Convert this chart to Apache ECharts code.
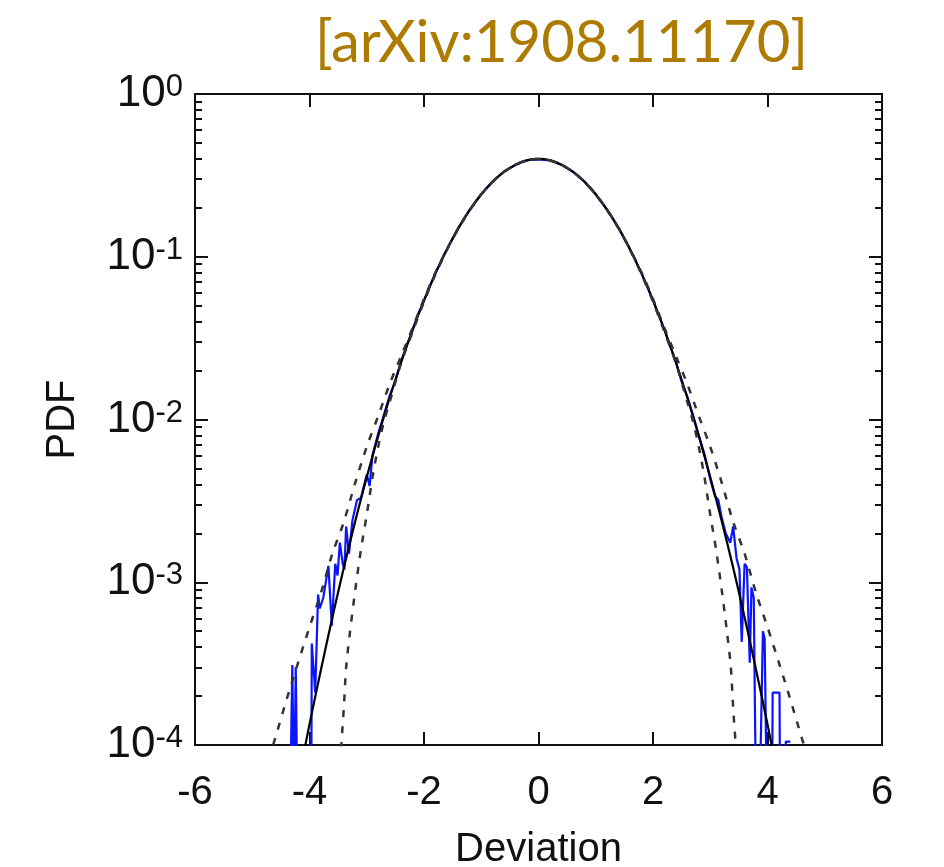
<!DOCTYPE html>
<html>
<head>
<meta charset="utf-8">
<script src="https://cdn.jsdelivr.net/npm/echarts@6/dist/echarts.min.js"></script>
<style>html,body{margin:0;padding:0;background:#fff}#c{width:944px;height:867px}</style>
</head>
<body>
<div id="c"></div>
<script>
// x tick labels
var xTicks = [-6, -4, -2, 0, 2, 4, 6];
// y tick exponents (log axis)
var yDecades = [0, -1, -2, -3, -4];

// Black solid curve
var blackX = [-4.2,-4.0,-3.8,-3.6,-3.4,-3.2,-3.0,-2.8,-2.6,-2.4,-2.2,-2.0,-1.8,-1.6,-1.4,-1.2,-1.0,-0.8,-0.6,-0.4,-0.2,0,0.2,0.4,0.6,0.8,1.0,1.2,1.4,1.6,1.8,2.0,2.2,2.4,2.6,2.8,3.0,3.2,3.4,3.6,3.8,4.0,4.2];
var blackY = [5.9e-5,1.34e-4,2.9e-4,6.1e-4,1.23e-3,2.38e-3,4.43e-3,7.9e-3,0.0136,0.0224,0.0355,0.054,0.079,0.111,0.150,0.194,0.242,0.290,0.333,0.368,0.391,0.399,0.391,0.368,0.333,0.290,0.242,0.194,0.150,0.111,0.079,0.054,0.0355,0.0224,0.0136,7.9e-3,4.43e-3,2.38e-3,1.23e-3,6.1e-4,2.9e-4,1.34e-4,5.9e-5];

// Wide dashed curve
var wideX = [-4.8,-4.6,-4.4,-4.2,-4.0,-3.8,-3.6,-3.4,-3.2,-3.0,-2.8,-2.6,-2.4,-2.2,-2.0,-1.8,-1.6,-1.4,-1.2,-1.0,-0.8,-0.6,-0.4,-0.2,0,0.2,0.4,0.6,0.8,1.0,1.2,1.4,1.6,1.8,2.0,2.2,2.4,2.6,2.8,3.0,3.2,3.4,3.6,3.8,4.0,4.2,4.4,4.6,4.8];
var wideY = [6.5e-5,1.1e-4,1.9e-4,3.2e-4,5.3e-4,8.6e-4,1.5e-3,2.35e-3,4.1e-3,6.8e-3,0.0105,0.0165,0.0245,0.0365,0.055,0.080,0.111,0.150,0.194,0.242,0.290,0.333,0.368,0.391,0.399,0.391,0.368,0.333,0.290,0.242,0.194,0.150,0.111,0.080,0.055,0.0365,0.0245,0.0165,0.0105,6.8e-3,4.1e-3,2.35e-3,1.5e-3,8.6e-4,5.3e-4,3.2e-4,1.9e-4,1.1e-4,6.5e-5];

// Narrow dashed curve
var narrowX = [-3.48,-3.44,-3.40,-3.36,-3.3,-3.2,-3.1,-3.0,-2.9,-2.8,-2.7,-2.6,-2.4,-2.2,-2.0,-1.8,-1.6,-1.4,-1.2,-1.0,-0.8,-0.6,-0.4,-0.2,0,0.2,0.4,0.6,0.8,1.0,1.2,1.4,1.6,1.8,2.0,2.2,2.4,2.6,2.7,2.8,2.9,3.0,3.1,3.2,3.3,3.36,3.40,3.44,3.48];
var narrowY = [6e-5,1.05e-4,1.7e-4,3e-4,4.7e-4,9e-4,1.6e-3,2.6e-3,4.4e-3,6.8e-3,9.7e-3,0.0128,0.0222,0.0345,0.053,0.078,0.110,0.149,0.193,0.241,0.289,0.333,0.368,0.391,0.399,0.391,0.368,0.333,0.289,0.241,0.193,0.149,0.110,0.078,0.053,0.0345,0.0222,0.0128,9.7e-3,6.8e-3,4.4e-3,2.6e-3,1.6e-3,9e-4,4.7e-4,3e-4,1.7e-4,1.05e-4,6e-5];

// Blue empirical data
var blueX = [-4.34,-4.30,-4.27,-4.24,-4.21,-3.97,-3.96,-3.90,-3.85,-3.82,-3.76,-3.73,-3.67,-3.61,-3.55,-3.51,-3.47,-3.42,-3.39,-3.36,-3.31,-3.25,-3.17,-3.10,-3.0,-2.95,-2.9,-2.8,-2.7,-2.6,-2.5,-2.4,-2.3,-2.2,-2.1,-2.0,-1.8,-1.6,-1.4,-1.2,-1.0,-0.8,-0.6,-0.4,-0.2,0,0.2,0.4,0.6,0.8,1.0,1.2,1.4,1.6,1.8,2.0,2.1,2.2,2.3,2.4,2.5,2.6,2.7,2.8,2.9,3.0,3.08,3.14,3.20,3.27,3.35,3.40,3.46,3.51,3.55,3.60,3.64,3.69,3.72,3.76,3.80,3.86,3.92,3.95,3.99,4.08,4.09,4.21,4.22,4.30,4.32,4.40];
var blueY = [4e-5,3.1e-4,4e-5,3.0e-4,4e-5,4e-5,4.2e-4,2.1e-4,8.4e-4,6.9e-4,8e-4,7.9e-4,1.26e-3,5.4e-4,1.3e-3,1.1e-3,1.75e-3,1.3e-3,1.2e-3,2.2e-3,1.5e-3,2.4e-3,3.2e-3,3.3e-3,4.6e-3,3.9e-3,6.0e-3,8.2e-3,0.0107,0.0140,0.0172,0.0228,0.0285,0.0352,0.0445,0.0537,0.0795,0.111,0.150,0.195,0.242,0.289,0.334,0.367,0.392,0.397,0.391,0.368,0.333,0.290,0.241,0.194,0.150,0.111,0.079,0.054,0.0438,0.0357,0.0282,0.0226,0.0171,0.0138,0.0106,0.0080,0.0061,4.3e-3,3.4e-3,3.2e-3,2.5e-3,2.0e-3,1.75e-3,2.2e-3,1.4e-3,1.2e-3,4.3e-4,1.3e-3,1.24e-3,3.2e-4,9.3e-4,8e-4,4e-5,4e-5,5e-4,4.5e-4,4e-5,4e-5,2.1e-4,2.1e-4,4e-5,4e-5,1.05e-4,1.05e-4];

function zip(xs, ys){ return xs.map(function(x,i){ return [x, ys[i]]; }); }

var chart = echarts.init(document.getElementById('c'), null, {renderer:'canvas'});
var FONT = 'Liberation Sans';
var axisCol = '#111';

function yLabel(v){
  var e = Math.round(Math.log10(v));
  return '{b|10}{s|' + e + '}';
}

var option = {
  backgroundColor: '#fff',
  animation: false,
  title: {
    text: '[arXiv:1908.11170]',
    left: 310, top: 9,
    textStyle: {fontFamily: 'Lato', fontWeight: 'normal', fontSize: 58, color: '#AD7B00'}
  },
  grid: {left: 195, right: 62, top: 94, bottom: 122, outerBoundsMode: 'none', containLabel: false},
  xAxis: [{
    type: 'value', min: -6, max: 6, interval: 2, position: 'bottom',
    name: 'Deviation', nameLocation: 'middle', nameGap: 85,
    nameTextStyle: {fontFamily: FONT, fontSize: 40, color: '#111'},
    axisLine: {show: true, onZero: false, lineStyle: {color: axisCol, width: 2}},
    axisTick: {show: true, inside: true, length: 13, lineStyle: {color: axisCol, width: 2}},
    axisLabel: {fontFamily: FONT, fontSize: 40, color: '#111', margin: 28},
    splitLine: {show: false}
  },{
    type: 'value', min: -6, max: 6, interval: 2, position: 'top',
    axisLine: {show: true, onZero: false, lineStyle: {color: axisCol, width: 2}},
    axisTick: {show: true, inside: true, length: 13, lineStyle: {color: axisCol, width: 2}},
    axisLabel: {show: false}, splitLine: {show: false}
  }],
  yAxis: [{
    type: 'log', min: 1e-4, max: 1, logBase: 10, position: 'left',
    name: 'PDF', nameLocation: 'middle', nameGap: 112, nameRotate: 90,
    nameTextStyle: {fontFamily: FONT, fontSize: 40, color: '#111'},
    axisLine: {show: true, onZero: false, lineStyle: {color: axisCol, width: 2}},
    axisTick: {show: true, inside: true, length: 13, lineStyle: {color: axisCol, width: 2}},
    minorTick: {show: true, splitNumber: 9, length: 7, lineStyle: {color: axisCol, width: 2}},
    axisLabel: {
      margin: 12, formatter: yLabel,
      rich: {
        b: {fontFamily: FONT, fontSize: 44, color: '#111', lineHeight: 44, verticalAlign: 'bottom', padding: [28,0,0,0]},
        s: {fontFamily: FONT, fontSize: 31, color: '#111', lineHeight: 31, verticalAlign: 'top', padding: [0,0,12,0]}
      }
    },
    splitLine: {show: false}, minorSplitLine: {show: false}
  },{
    type: 'log', min: 1e-4, max: 1, logBase: 10, position: 'right',
    axisLine: {show: true, onZero: false, lineStyle: {color: axisCol, width: 2}},
    axisTick: {show: true, inside: true, length: 13, lineStyle: {color: axisCol, width: 2}},
    minorTick: {show: true, splitNumber: 9, length: 7, lineStyle: {color: axisCol, width: 2}},
    axisLabel: {show: false}, splitLine: {show: false}
  }],
  series: [{
    type: 'line', name: 'data', data: zip(blueX, blueY), showSymbol: false, clip: true,
    lineStyle: {color: '#0a14ff', width: 2.2}, z: 2
  },{
    type: 'line', name: 'fit', data: zip(blackX, blackY), showSymbol: false, smooth: 0.3, clip: true,
    lineStyle: {color: '#000', width: 2.2}, z: 3
  },{
    type: 'line', name: 'wide', data: zip(wideX, wideY), showSymbol: false, smooth: 0.3, clip: true,
    lineStyle: {color: '#333', width: 2.5, type: [7, 9]}, z: 4
  },{
    type: 'line', name: 'narrow', data: zip(narrowX, narrowY), showSymbol: false, smooth: 0.3, clip: true,
    lineStyle: {color: '#333', width: 2.5, type: [7, 9]}, z: 4
  }]
};
chart.setOption(option);
</script>
</body>
</html>
